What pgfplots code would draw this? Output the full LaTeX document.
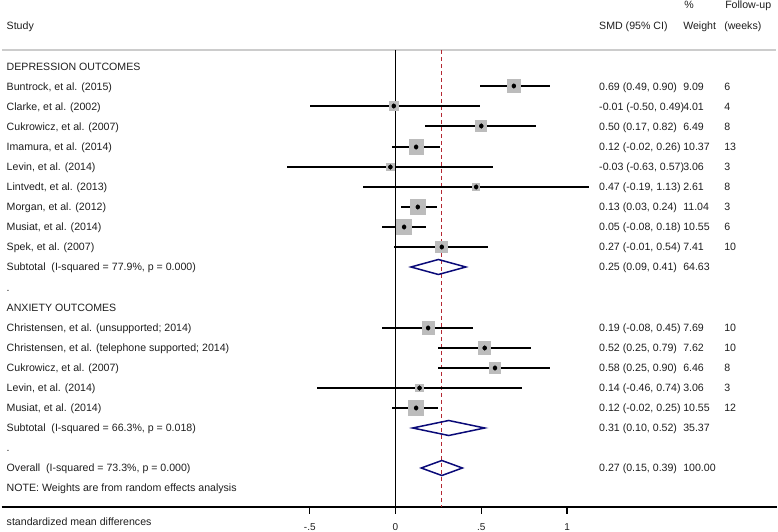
\documentclass[border=0pt]{standalone}
\usepackage{pgfplots}
\pgfplotsset{compat=1.18}
\usepackage{pgfplotstable}
\usepackage{fontspec}
\setmainfont{Liberation Sans}
\definecolor{sqgray}{RGB}{188,188,188}
\definecolor{navyd}{RGB}{10,10,120}
\definecolor{refred}{RGB}{180,40,50}
\definecolor{txtc}{RGB}{30,30,30}

% study rows: y position, estimate, CI, weight
\pgfplotstableread{
y    est    lo     hi    w
422  0.69  0.49  0.90  9.09
402 -0.01 -0.50  0.49  4.01
382  0.50  0.17  0.82  6.49
361  0.12 -0.02  0.26 10.37
341 -0.03 -0.63  0.57  3.06
321  0.47 -0.19  1.13  2.61
301  0.13  0.03  0.24 11.04
281  0.05 -0.08  0.18 10.55
261  0.27 -0.01  0.54  7.41
180  0.19 -0.08  0.45  7.69
160  0.52  0.25  0.79  7.62
140  0.58  0.25  0.90  6.46
120  0.14 -0.46  0.74  3.06
100  0.12 -0.02  0.25 10.55
}\studies

\newcommand{\rowtext}[5]{%
  \node[txt] at (axis cs:-2.268,#1) {#2};
  \node[txt] at (axis cs:1.1866,#1) {#3};
  \node[txt] at (axis cs:1.6764,#1) {#4};
  \node[txt] at (axis cs:1.9155,#1) {#5};}

\begin{document}
\begin{tikzpicture}[
  txt/.style={anchor=west, inner sep=0pt, text height=7.6pt, text depth=0pt,
    font=\fontsize{10.6}{12}\selectfont, text=txtc},
  tl/.style={anchor=north, inner sep=0pt, text height=7.5pt, text depth=0pt,
    font=\fontsize{10}{12}\selectfont, text=txtc}]
\begin{axis}[
  name=ax,
  width=778pt, height=532pt, scale only axis,
  xmin=-2.306, xmax=2.230, ymin=-24, ymax=508,
  axis lines=none, xtick=\empty, ytick=\empty, clip=false,
]
% top gray separator
\addplot[draw=gray!40, line width=1.3pt] coordinates {(-2.294,458) (2.219,458)};
% x axis line and ticks as a single polyline
\addplot[black, line width=1.2pt, mark=none] coordinates {
  (-2.296,1) (-0.5,1) (-0.5,-6) (-0.5,1) (0,1) (0,-6) (0,1) (0.5,1) (0.5,-6) (0.5,1)
  (1,1) (1,-6) (1,1) (2.222,1)};
\node[tl] at (axis cs:-0.5,-14.7) {-.5};
\node[tl] at (axis cs:0,-14.7) {0};
\node[tl] at (axis cs:0.5,-14.7) {.5};
\node[tl] at (axis cs:1,-14.7) {1};
% null line
\addplot[black, line width=1pt] coordinates {(0,458) (0,1)};
% overall effect line
\addplot[refred, line width=1pt, dash pattern=on 4pt off 3pt] coordinates {(0.27,458) (0.27,1)};
% weight squares
\addplot[scatter, only marks, mark=square*, draw=sqgray, fill=sqgray,
  mark options={draw=sqgray, fill=sqgray, line width=0pt},
  scatter/use mapped color={draw=sqgray, fill=sqgray},
  visualization depends on={2.2*sqrt(\thisrow{w}) \as \perpointmarksize},
  scatter/@pre marker code/.append style={/tikz/mark size=\perpointmarksize}]
  table[x=est, y=y] {\studies};
% confidence intervals
\addplot[only marks, mark=none, black,
  error bars/.cd, x dir=both, x explicit, error mark=none,
  error bar style={line width=2pt, black}]
  table[x=est, y=y,
    x error minus expr=\thisrow{est}-\thisrow{lo},
    x error plus expr=\thisrow{hi}-\thisrow{est}] {\studies};
% point estimates
\addplot[only marks, mark=diamond*, mark size=2.4pt, black] table[x=est, y=y] {\studies};
% pooled diamonds
\addplot[navyd, line width=1.5pt] coordinates {(0.09,241) (0.25,248.5) (0.41,241) (0.25,233.5) (0.09,241)} -- cycle;
\addplot[navyd, line width=1.5pt] coordinates {(0.10,80) (0.31,87.5) (0.52,80) (0.31,72.5) (0.10,80)} -- cycle;
\addplot[navyd, line width=1.5pt] coordinates {(0.15,40) (0.27,47.5) (0.39,40) (0.27,32.5) (0.15,40)} -- cycle;

% headers
\node[txt] at (axis cs:1.6822,503) {\%};
\node[txt] at (axis cs:1.9213,503) {Follow-up};
\rowtext{482}{Study}{SMD (95\% CI)}{Weight}{(weeks)}
\rowtext{441.7}{DEPRESSION OUTCOMES}{}{}{}
\rowtext{421.7}{Buntrock, et al. (2015)}{0.69 (0.49, 0.90)}{9.09}{6}
\rowtext{401.6}{Clarke, et al. (2002)}{-0.01 (-0.50, 0.49)}{4.01}{4}
\rowtext{381.5}{Cukrowicz, et al. (2007)}{0.50 (0.17, 0.82)}{6.49}{8}
\rowtext{361.4}{Imamura, et al. (2014)}{0.12 (-0.02, 0.26)}{10.37}{13}
\rowtext{341.3}{Levin, et al. (2014)}{-0.03 (-0.63, 0.57)}{3.06}{3}
\rowtext{321.2}{Lintvedt, et al. (2013)}{0.47 (-0.19, 1.13)}{2.61}{8}
\rowtext{301.1}{Morgan, et al. (2012)}{0.13 (0.03, 0.24)}{11.04}{3}
\rowtext{281.0}{Musiat, et al. (2014)}{0.05 (-0.08, 0.18)}{10.55}{6}
\rowtext{260.9}{Spek, et al. (2007)}{0.27 (-0.01, 0.54)}{7.41}{10}
\rowtext{240.8}{Subtotal\ \ (I-squared = 77.9\%, p = 0.000)}{0.25 (0.09, 0.41)}{64.63}{}
\rowtext{220.7}{.}{}{}{}
\rowtext{200.6}{ANXIETY OUTCOMES}{}{}{}
\rowtext{180.5}{Christensen, et al. (unsupported; 2014)}{0.19 (-0.08, 0.45)}{7.69}{10}
\rowtext{160.4}{Christensen, et al. (telephone supported; 2014)}{0.52 (0.25, 0.79)}{7.62}{10}
\rowtext{140.3}{Cukrowicz, et al. (2007)}{0.58 (0.25, 0.90)}{6.46}{8}
\rowtext{120.2}{Levin, et al. (2014)}{0.14 (-0.46, 0.74)}{3.06}{3}
\rowtext{100.1}{Musiat, et al. (2014)}{0.12 (-0.02, 0.25)}{10.55}{12}
\rowtext{80}{Subtotal\ \ (I-squared = 66.3\%, p = 0.018)}{0.31 (0.10, 0.52)}{35.37}{}
\rowtext{60}{.}{}{}{}
\rowtext{40}{Overall\ \ (I-squared = 73.3\%, p = 0.000)}{0.27 (0.15, 0.39)}{100.00}{}
\rowtext{20}{NOTE: Weights are from random effects analysis}{}{}{}
\node[txt] at (axis cs:-2.268,-13.5) {standardized mean differences};
\end{axis}
\pgfresetboundingbox
\path (ax.south west) rectangle (ax.north east);
\end{tikzpicture}
\end{document}
